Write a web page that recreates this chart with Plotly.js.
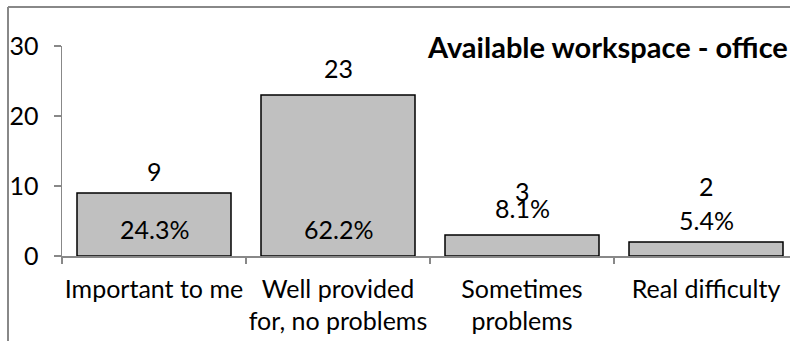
<!DOCTYPE html>
<html>
<head>
<meta charset="utf-8">
<script src="https://cdn.plot.ly/plotly-3.0.1.min.js"></script>
<style>html,body{margin:0;padding:0;background:#fff;}#chart{width:790px;height:341px;}</style>
</head>
<body>
<div id="chart"></div>
<script>
// Data
const categories = ["Important to me", "Well provided<br>for, no problems", "Sometimes<br>problems", "Real difficulty"];
const counts = [9, 23, 3, 2];
const percentLabels = ["24.3%", "62.2%", "8.1%", "5.4%"];
const yTicks = [0, 10, 20, 30];
const chartTitle = "Available workspace - office";

// Styling (label pixel offsets, as in original Excel layout)
const countShift = [22, 27, 44, 56];   // px above bar top
const pctShift = [27, 27, 48, 36];     // px above baseline

const FONT = "Lato, 'Open Sans', sans-serif";
const FS = 25;
const W = 790, H = 341;
const mL = 62, mR = 0, mT = 46, mB = 85;
const plotW = W - mL - mR, plotH = H - mT - mB;
const catPx = 184;

const annotations = [];
counts.forEach((v, i) => {
  annotations.push({x: i, y: v, xref: 'x', yref: 'y', text: String(v), showarrow: false,
    yshift: countShift[i], font: {family: FONT, size: FS, color: '#000'}});
  annotations.push({x: i, y: 0, xref: 'x', yref: 'y', text: percentLabels[i], showarrow: false,
    yshift: pctShift[i], font: {family: FONT, size: FS, color: '#000'}});
});
annotations.push({x: 1, y: 1, xref: 'paper', yref: 'paper', xanchor: 'right', yanchor: 'middle',
  text: '<b>' + chartTitle + '</b>', showarrow: false, xshift: 0, yshift: 0,
  font: {family: FONT, size: 29, color: '#000'}});

const trace = {
  type: 'bar', x: categories, y: counts, width: 0.837,
  marker: {color: '#c0c0c0', line: {color: '#000', width: 1.5}},
  hoverinfo: 'none'
};

const layout = {
  width: W, height: H,
  margin: {l: mL, r: mR, t: mT, b: mB, pad: 0},
  paper_bgcolor: '#fff', plot_bgcolor: '#fff',
  showlegend: false,
  font: {family: FONT, size: FS, color: '#000'},
  xaxis: {
    type: 'category', range: [-0.5, -0.5 + plotW / catPx],
    showline: true, linecolor: '#888', linewidth: 1.5,
    ticks: 'outside', tickson: 'boundaries', ticklen: 6, tickcolor: '#888', tickwidth: 1.5,
    ticklabelstandoff: 10, tickangle: 0,
    tickfont: {family: FONT, size: FS, color: '#000'}, showgrid: false, zeroline: false,
    automargin: false
  },
  yaxis: {
    range: [0, 30], tickvals: yTicks, ticktext: yTicks.map(String),
    showline: true, linecolor: '#888', linewidth: 1.5,
    ticks: 'outside', ticklen: 7, tickcolor: '#888', tickwidth: 1.5,
    ticklabelstandoff: 10,
    tickfont: {family: FONT, size: FS, color: '#000'}, showgrid: false, zeroline: false,
    automargin: false
  },
  annotations: annotations,
  shapes: [
    {type: 'line', xref: 'paper', yref: 'paper', x0: (8 - mL) / plotW, x1: (8 - mL) / plotW,
      y0: (mT - 7) / plotH + 1, y1: -(H - mB) / plotH - 1, line: {color: '#888', width: 2}},
    {type: 'line', xref: 'paper', yref: 'paper', x0: (8 - mL) / plotW, x1: 1.1,
      y0: 1 + (mT - 7) / plotH, y1: 1 + (mT - 7) / plotH, line: {color: '#888', width: 2}}
  ]
};

Plotly.newPlot('chart', [trace], layout, {staticPlot: true, displayModeBar: false});
</script>
</body>
</html>
